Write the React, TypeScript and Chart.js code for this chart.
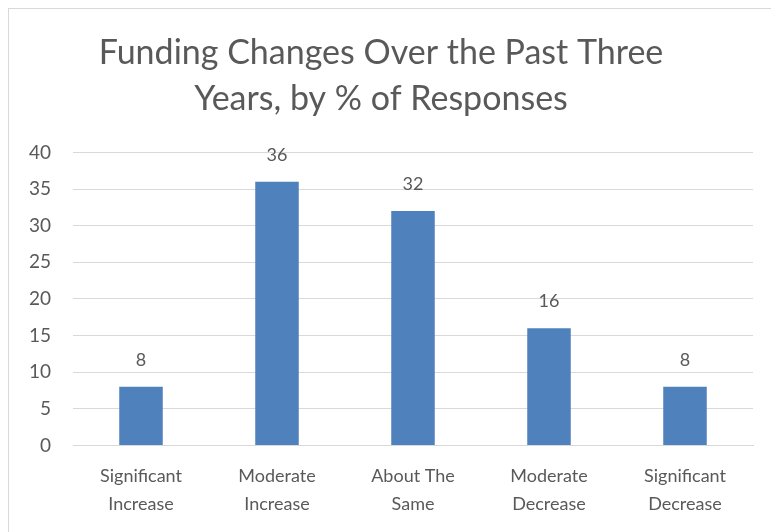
import React, { useEffect, useRef } from "react";
import { Chart, registerables } from "chart.js";

Chart.register(...registerables);

const titleLines = ["Funding Changes Over the Past Three", "Years, by % of Responses"];
const categories = [
  ["Significant", "Increase"],
  ["Moderate", "Increase"],
  ["About The", "Same"],
  ["Moderate", "Decrease"],
  ["Significant", "Decrease"],
];
const values = [8, 36, 32, 16, 8];
const yMin = 0;
const yMax = 40;
const yStep = 5;

const FONT = "Lato, 'Open Sans', sans-serif";
const TEXT = "#595959";

const valueLabels = {
  id: "valueLabels",
  afterDatasetsDraw(chart: any) {
    const ctx = chart.ctx;
    const meta = chart.getDatasetMeta(0);
    ctx.save();
    ctx.font = `18px ${FONT}`;
    ctx.fillStyle = TEXT;
    ctx.textAlign = "center";
    ctx.textBaseline = "middle";
    meta.data.forEach((bar: any, i: number) => {
      ctx.fillText(String(values[i]), bar.x, bar.y - 27);
    });
    ctx.restore();
  },
};

export default function App() {
  const ref = useRef<HTMLCanvasElement>(null);
  useEffect(() => {
    if (!ref.current) return;
    const chart = new Chart(ref.current, {
      type: "bar",
      data: {
        labels: categories,
        datasets: [
          {
            data: values,
            backgroundColor: "#4F81BD",
            barPercentage: 0.32,
            categoryPercentage: 1,
          },
        ],
      },
      options: {
        responsive: false,
        animation: false,
        layout: { padding: { left: 0, right: 26, top: 0, bottom: -3 } },
        plugins: {
          legend: { display: false },
          tooltip: { enabled: false },
          title: {
            display: true,
            text: titleLines,
            color: TEXT,
            font: { family: FONT, size: 34, weight: "normal", lineHeight: 1.36 },
            padding: { top: 21, bottom: 30 },
          },
        },
        scales: {
          x: {
            grid: { display: false, drawTicks: false },
            border: { display: true, color: "#d9d9d9" },
            ticks: {
              color: TEXT,
              font: { family: FONT, size: 18, lineHeight: 1.6 },
              padding: 16,
              maxRotation: 0,
              autoSkip: false,
            },
          },
          y: {
            min: yMin,
            max: yMax,
            afterFit: (scale: any) => {
              scale.width = 64;
            },
            grid: { color: "#d9d9d9", drawTicks: false },
            border: { display: false },
            ticks: {
              stepSize: yStep,
              color: TEXT,
              font: { family: FONT, size: 19 },
              padding: 22,
            },
          },
        },
      },
      plugins: [valueLabels],
    });
    return () => chart.destroy();
  }, []);
  return (
    <div
      style={{
        width: 771,
        height: 524,
        borderLeft: "1px solid #d9d9d9",
        borderTop: "1px solid #d9d9d9",
        background: "#fff",
      }}
    >
      <canvas ref={ref} width={770} height={523} style={{ display: "block" }} />
    </div>
  );
}
